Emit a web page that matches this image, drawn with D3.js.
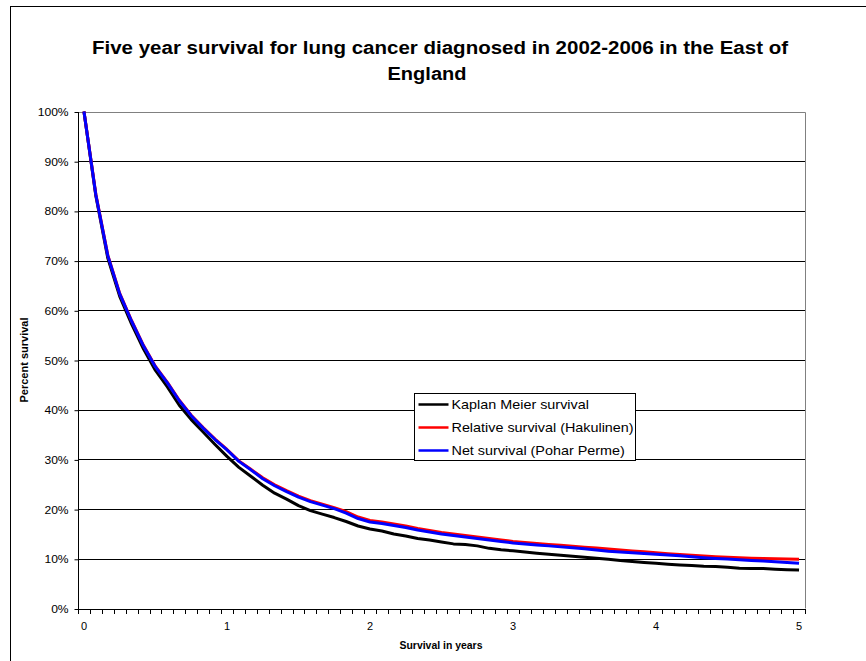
<!DOCTYPE html>
<html>
<head>
<meta charset="utf-8">
<script src="https://cdn.jsdelivr.net/npm/d3@7"></script>
<style>
  html, body { margin: 0; padding: 0; background: #fff; }
  svg { display: block; font-family: "Liberation Sans", Arial, sans-serif; }
</style>
</head>
<body>
<svg id="chart" width="866" height="661"></svg>
<script>
// Months since diagnosis (category axis, 0..60)
const months = d3.range(0, 61);
// Year labels shown every 12 months
const yearLabels = ["0", "1", "2", "3", "4", "5"];
const percentTicks = [0, 10, 20, 30, 40, 50, 60, 70, 80, 90, 100];

// Survival (%) by month
const kaplanMeier = [
  100, 83.0, 70.5, 62.8, 57.2, 52.2, 47.9, 44.6, 40.9, 38.0, 35.5, 33.0,
  30.6, 28.4, 26.6, 24.8, 23.2, 22.0, 20.7, 19.7, 19.0, 18.3, 17.5, 16.6,
  16.0, 15.6, 15.0, 14.6, 14.1, 13.8, 13.4, 13.0, 12.9, 12.6, 12.1, 11.8,
  11.6, 11.35, 11.1, 10.9, 10.7, 10.5, 10.3, 10.1, 9.9, 9.65, 9.45, 9.25,
  9.1, 8.9, 8.75, 8.65, 8.5, 8.45, 8.3, 8.1, 8.05, 8.05, 7.9, 7.8, 7.75
];
const relativeHakulinen = [
  100, 83.3, 71.1, 63.4, 57.9, 52.9, 48.7, 45.5, 41.9, 38.9, 36.4, 34.1,
  32.0, 29.7, 28.0, 26.3, 24.9, 23.7, 22.6, 21.7, 21.0, 20.3, 19.5, 18.4,
  17.7, 17.4, 17.0, 16.6, 16.1, 15.7, 15.3, 15.0, 14.7, 14.4, 14.1, 13.8,
  13.5, 13.3, 13.1, 12.9, 12.75, 12.55, 12.35, 12.15, 11.95, 11.75, 11.55, 11.4,
  11.2, 11.0, 10.85, 10.7, 10.55, 10.4, 10.3, 10.2, 10.1, 10.05, 10.0, 9.95, 9.9
];
const netPoharPerme = [
  100, 83.2, 71.0, 63.3, 57.8, 52.8, 48.6, 45.4, 41.8, 38.8, 36.3, 34.0,
  31.9, 29.6, 27.9, 26.1, 24.7, 23.5, 22.4, 21.5, 20.8, 20.1, 19.2, 18.1,
  17.4, 17.1, 16.7, 16.3, 15.8, 15.4, 15.0, 14.7, 14.4, 14.1, 13.8, 13.5,
  13.2, 13.0, 12.8, 12.6, 12.4, 12.2, 12.0, 11.75, 11.5, 11.35, 11.2, 11.05,
  10.9, 10.75, 10.6, 10.4, 10.2, 10.05, 9.95, 9.8, 9.65, 9.55, 9.4, 9.25, 9.1
];

const seriesNames = ["Kaplan Meier survival", "Relative survival (Hakulinen)", "Net survival (Pohar Perme)"];
const seriesColors = ["#000000", "#ff0000", "#0000ff"];
const seriesValues = [kaplanMeier, relativeHakulinen, netPoharPerme];

const svg = d3.select("#chart");
const plot = { left: 78, right: 805, top: 111.5, bottom: 608.5 };

// Outer chart frame (extends beyond the visible window)
svg.append("rect")
  .attr("x", 10.5).attr("y", 6.5)
  .attr("width", 900).attr("height", 700)
  .attr("fill", "#fff").attr("stroke", "#000").attr("stroke-width", 1);

const x = d3.scalePoint().domain(months).range([plot.left, plot.right]).padding(0.5);
const band = d3.scaleBand().domain(months).range([plot.left, plot.right]);
const y = d3.scaleLinear().domain([0, 100]).range([plot.bottom, plot.top]);

// Horizontal gridlines
svg.append("g").selectAll("line")
  .data(percentTicks.filter(d => d > 0 && d < 100))
  .join("line")
  .attr("x1", plot.left).attr("x2", plot.right)
  .attr("y1", d => Math.round(y(d)) + 0.5).attr("y2", d => Math.round(y(d)) + 0.5)
  .attr("stroke", "#000").attr("stroke-width", 1);

// Plot area frame (top and right)
svg.append("path")
  .attr("d", `M${plot.left},${Math.round(plot.top) + 0.5}H${plot.right + 0.5}V${plot.bottom}`)
  .attr("fill", "none").attr("stroke", "#808080").attr("stroke-width", 1);

// Y axis
const yAxis = d3.axisLeft(y)
  .tickValues(percentTicks)
  .tickFormat(d => d + "%")
  .tickSize(4)
  .tickPadding(5);
const gy = svg.append("g").attr("transform", `translate(${plot.left + 0.5},0.5)`).call(yAxis);
gy.select(".domain").attr("stroke", "#000").attr("d", `M0,${plot.top}V${plot.bottom}`);
gy.selectAll(".tick line").attr("stroke", "#000");
gy.selectAll(".tick text").attr("font-size", 11).attr("fill", "#000")
  .attr("font-family", "'Liberation Sans', Arial, sans-serif")
  .attr("transform", "scale(1.1,1)");

// X axis: line, category-boundary tick marks, year labels
const gx = svg.append("g");
gx.append("line")
  .attr("x1", plot.left).attr("x2", plot.right + 1)
  .attr("y1", Math.round(plot.bottom) + 0.5).attr("y2", Math.round(plot.bottom) + 0.5)
  .attr("stroke", "#000");
const boundaries = months.map(m => band(m)).concat([plot.right]);
gx.selectAll("line.tick")
  .data(boundaries)
  .join("line").attr("class", "tick")
  .attr("x1", d => Math.round(d) + 0.5).attr("x2", d => Math.round(d) + 0.5)
  .attr("y1", Math.round(plot.bottom)).attr("y2", Math.round(plot.bottom) + 5)
  .attr("stroke", "#000");
gx.selectAll("text")
  .data(yearLabels)
  .join("text")
  .attr("x", (d, i) => x(months[i * 12]))
  .attr("y", 630)
  .attr("text-anchor", "middle")
  .attr("font-size", 11)
  .text(d => d);

// Survival curves
const line = d3.line().x((d, i) => x(months[i])).y(d => y(d));
svg.append("g").selectAll("path")
  .data(seriesValues)
  .join("path")
  .attr("d", d => line(d))
  .attr("fill", "none")
  .attr("stroke", (d, i) => seriesColors[i])
  .attr("stroke-width", 3)
  .attr("stroke-linejoin", "round");

// Title (wide bold face)
const title = svg.append("text")
  .attr("text-anchor", "middle")
  .attr("font-size", 18).attr("font-weight", "bold");
title.append("tspan").attr("x", 440).attr("y", 54)
  .attr("textLength", 696).attr("lengthAdjust", "spacingAndGlyphs")
  .text("Five year survival for lung cancer diagnosed in 2002-2006 in the East of");
title.append("tspan").attr("x", 427).attr("y", 80)
  .attr("textLength", 79).attr("lengthAdjust", "spacingAndGlyphs")
  .text("England");

// Axis titles
svg.append("text")
  .attr("x", 441).attr("y", 649)
  .attr("text-anchor", "middle")
  .attr("font-size", 10).attr("font-weight", "bold")
  .attr("textLength", 83).attr("lengthAdjust", "spacingAndGlyphs")
  .text("Survival in years");
svg.append("text")
  .attr("transform", "translate(28,360) rotate(-90)")
  .attr("text-anchor", "middle")
  .attr("font-size", 11).attr("font-weight", "bold")
  .text("Percent survival");

// Legend
const legend = svg.append("g").attr("transform", "translate(414.5,393.5)");
legend.append("rect").attr("width", 221).attr("height", 67)
  .attr("fill", "#fff").attr("stroke", "#000").attr("stroke-width", 1);
const items = legend.selectAll("g.item")
  .data(seriesNames)
  .join("g").attr("class", "item")
  .attr("transform", (d, i) => `translate(0,${11 + i * 23})`);
items.append("line")
  .attr("x1", 4).attr("x2", 34)
  .attr("stroke", (d, i) => seriesColors[i]).attr("stroke-width", 2.5);
items.append("text")
  .attr("transform", "translate(37,4.5) scale(1.15,1)")
  .attr("font-size", 12.5)
  .text(d => d);
</script>
</body>
</html>
